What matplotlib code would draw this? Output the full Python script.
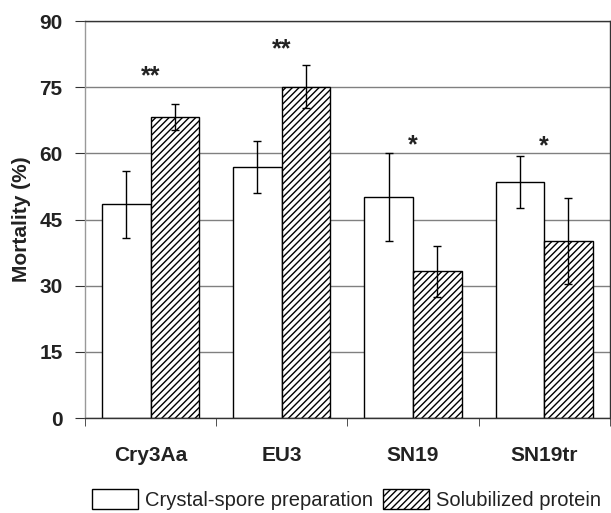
"""
plot mortality (%) for crystal-spore preparations vs. solubilized protein
"""

#%% import modules

import numpy as np
import matplotlib.pyplot as plt
import matplotlib as mpl
from matplotlib.patches import Patch

#%% global plot settings

mpl.rcParams['font.family'] = 'sans-serif'
mpl.rcParams['font.sans-serif'] = ['Liberation Sans', 'DejaVu Sans']
mpl.rcParams['hatch.linewidth'] = 1.0

#%% data

strains = ['Cry3Aa', 'EU3', 'SN19', 'SN19tr']
crystal = [48.5, 56.9, 50.1, 53.5]
crystal_err = [7.6, 5.8, 9.9, 5.8]
soluble = [68.3, 75.1, 33.3, 40.1]
soluble_err = [2.9, 4.9, 5.8, 9.8]
stars = ['**', '**', '*', '*']
star_y = [77.5, 83.5, 61.8, 61.6]
yticks = [0, 15, 30, 45, 60, 75, 90]

#%% plot

fig = plt.figure(figsize=(6.11, 5.13), dpi=100)
ax = fig.add_axes([0.139, 0.185, 0.859, 0.774])

x = np.arange(len(strains)) + 0.5
w = 0.37

ax.bar(x - w/2, crystal, w, color='white', edgecolor='black', linewidth=1, zorder=2)
ax.bar(x + w/2, soluble, w, color='white', edgecolor='black', linewidth=1,
       hatch='/////', zorder=2)
ax.errorbar(x - w/2, crystal, yerr=crystal_err, fmt='none', ecolor='black',
            elinewidth=1, capsize=3, capthick=1, zorder=3)
ax.errorbar(x + w/2, soluble, yerr=soluble_err, fmt='none', ecolor='black',
            elinewidth=1, capsize=3, capthick=1, zorder=3)

for i in range(len(strains)):
    ax.text(x[i], star_y[i], stars[i], ha='center', va='center',
            fontsize=18, fontweight='bold', color='#222222')

# axes
ax.set_xlim(0, 4)
ax.set_ylim(0, 90)
ax.set_yticks(yticks)
ax.set_yticklabels([str(t) for t in yticks], fontsize=15, fontweight='bold',
                   color='#222222')
ax.set_xticks(x)
ax.set_xticklabels(strains, fontsize=15, fontweight='bold', color='#222222')
ax.tick_params(axis='x', which='major', length=0, pad=20)
ax.set_xticks([0, 1, 2, 3, 4], minor=True)
ax.tick_params(axis='x', which='minor', length=6, direction='out', color='#333333')
ax.tick_params(axis='y', length=7, direction='out', color='#333333', pad=9)
ax.yaxis.grid(True, color='#808080', linewidth=1)
ax.set_axisbelow(True)
for s in ax.spines.values():
    s.set_color('#333333')
    s.set_linewidth(1)
ax.spines['left'].set_color('#999999')

ax.set_ylabel('Mortality (%)', fontsize=15, fontweight='bold', labelpad=6,
              color='#222222')

# legend
handles = [Patch(facecolor='white', edgecolor='black', linewidth=1),
           Patch(facecolor='white', edgecolor='black', linewidth=1, hatch='/////')]
leg = fig.legend(handles, ['Crystal-spore preparation', 'Solubilized protein'],
                 loc='lower center', bbox_to_anchor=(0.567, -0.03), ncol=2,
                 frameon=False, fontsize=14.5, handlelength=2.3, handleheight=1.15,
                 handletextpad=0.35, columnspacing=0.5)
for t in leg.get_texts():
    t.set_color('#222222')

fig.savefig('out.png', dpi=100)
